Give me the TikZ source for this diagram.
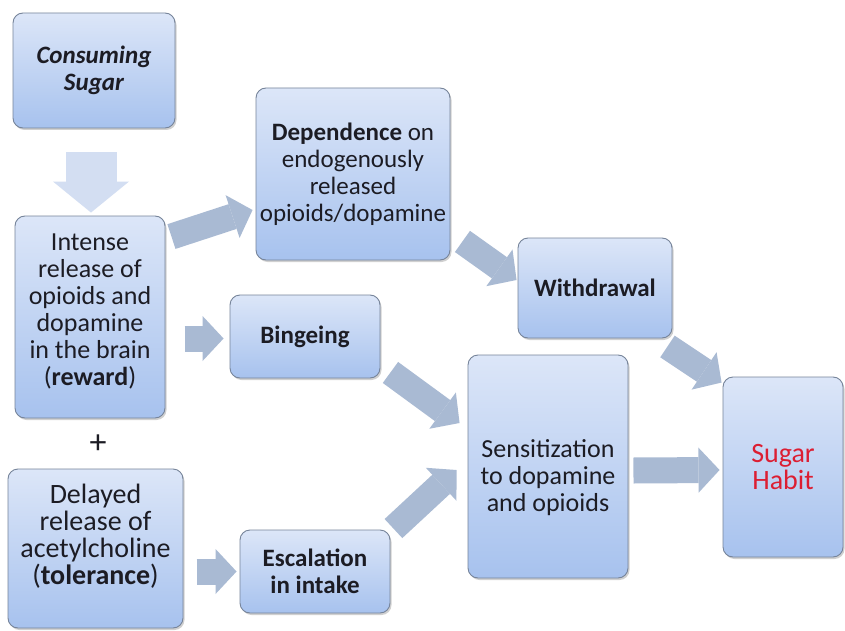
\documentclass[tikz,border=0pt]{standalone}
\usepackage{fontspec}
\setmainfont{Carlito}
\usetikzlibrary{arrows.meta,calc,shadows}

\definecolor{boxtop}{HTML}{DCE6F8}
\definecolor{boxbot}{HTML}{A7C2EE}
\definecolor{boxedge}{HTML}{76849A}
\definecolor{flowblue}{HTML}{A9BAD3}
\definecolor{paleflow}{HTML}{D3DEF2}
\definecolor{ink}{HTML}{1C1C24}
\definecolor{habitred}{HTML}{DC1E32}

\begin{document}
\begin{tikzpicture}[x=1pt,y=-1pt,
  stage/.style={draw=boxedge, line width=0.9pt, rounded corners=10pt,
    top color=boxtop, bottom color=boxbot, align=center, inner sep=0pt,
    text=ink,
    drop shadow={shadow xshift=1.5pt, shadow yshift=-2pt, opacity=0.3, fill=black!60}},
  fs/.style={font=\fontsize{#1}{27}\selectfont},
  flow/.style={draw=flowblue, line width=26pt,
    -{Triangle[length=21pt,width=45pt,line width=0pt]}},
  startflow/.style={draw=paleflow, line width=51pt,
    -{Triangle[length=31pt,width=76pt,line width=0pt]}}
]
% canvas
\fill[white] (0,0) rectangle (845,631);
\useasboundingbox (0,0) rectangle (845,631);

% stages
\node[stage, minimum width=162pt, minimum height=115pt,
      font=\fontsize{25}{27}\selectfont\bfseries\itshape]
  (cons) at (94,70.5) {Consuming\\Sugar};
\node[stage, minimum width=150pt, minimum height=202pt, fs=26]
  (intense) at (90,317)
  {Intense\\release of\\opioids and\\dopamine\\in the brain\\(\textbf{reward})\rule[-15pt]{0pt}{15pt}};
\node[font=\fontsize{34}{34}\selectfont, text=ink] (plus) at (98,444) {+};
\node[stage, minimum width=175pt, minimum height=159pt, fs=28]
  (delayed) at (95.5,548.5)
  {Delayed\\release of\\acetylcholine\\(\textbf{tolerance})\rule[-29pt]{0pt}{29pt}};
\node[stage, minimum width=194pt, minimum height=172pt, fs=25]
  (dep) at (353,174)
  {\textbf{Dependence} on\\endogenously\\released\\opioids/dopamine};
\node[stage, minimum width=150pt, minimum height=83pt,
      font=\fontsize{25}{27}\selectfont\bfseries]
  (binge) at (305,336.5) {Bingeing};
\node[stage, minimum width=150pt, minimum height=83pt,
      font=\fontsize{25}{27}\selectfont\bfseries]
  (esc) at (315,571.5) {Escalation\\in intake};
\node[stage, minimum width=154pt, minimum height=100pt,
      font=\fontsize{25}{27}\selectfont\bfseries]
  (with) at (595,288) {Withdrawal};
\node[stage, minimum width=160pt, minimum height=223pt, fs=26]
  (sens) at (548,466.5)
  {\rule{0pt}{40pt}Sensitization\\to dopamine\\and opioids};
\node[stage, minimum width=120pt, minimum height=180pt, fs=28, text=habitred]
  (habit) at (783,467) {Sugar\\Habit};

% flow arrows
\draw[startflow] ($(cons.south)+(-3,24)$) -- ($(intense.north)+(1,-3)$);
\draw[flow] ($(intense.north east)+(6,21)$) -- ($(dep.west)+(-3,36)$);
\draw[flow] ($(binge.west)+(-45,2)$) -- ($(binge.west)+(-6,2)$);
\draw[flow] ($(dep.south east)+(12,-19)$) -- ($(with.west)+(-1,-8)$);
\draw[flow] ($(with.south east)+(-5,8)$) -- ($(habit.north west)+(-1,6)$);
\draw[flow] ($(binge.south east)+(10,-6)$) -- ($(sens.west)+(-8,-43.5)$);
\draw[flow] ($(esc.north east)+(3,-1)$) -- ($(sens.west)+(-11,3.5)$);
\draw[flow] ($(esc.west)+(-43,0)$) -- ($(esc.west)+(-3,0)$);
\draw[flow] ($(sens.east)+(5,4)$) -- ($(habit.west)+(-3,3)$);
\end{tikzpicture}
\end{document}
